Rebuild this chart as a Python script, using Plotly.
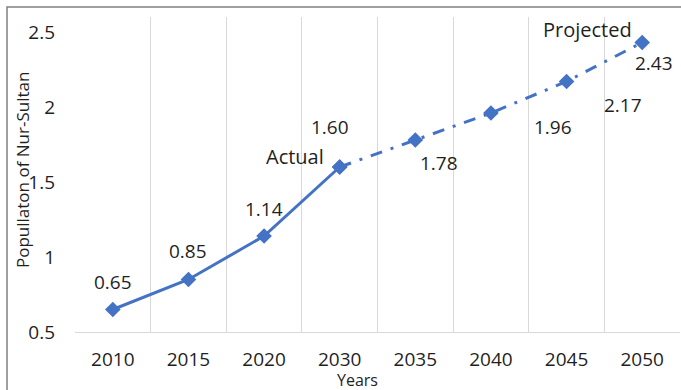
import plotly.graph_objects as go

years = ["2010", "2015", "2020", "2030", "2035", "2040", "2045", "2050"]
population = [0.65, 0.85, 1.14, 1.60, 1.78, 1.96, 2.17, 2.43]
actual_years = years[:4]
actual_values = population[:4]
projected_years = years[3:]
projected_values = population[3:]
y_ticks = [0.5, 1, 1.5, 2, 2.5]
y_ticktext = ["0.5", "1", "1.5", "2", "2.5"]

# label offsets (px) relative to each point
label_shift = [(0, 28), (0, 29), (0, 27), (-10, 40), (24, -23), (62, -14), (56, -23), (12, -20)]

BLUE = "#4472C4"
FONT = "Open Sans"
TXT = "#1f1f1f"

fig = go.Figure()
fig.add_trace(go.Scatter(
    x=actual_years, y=actual_values, mode="lines+markers",
    line=dict(color=BLUE, width=3),
    marker=dict(symbol="diamond", size=12, color=BLUE),
    showlegend=False, cliponaxis=False,
))
fig.add_trace(go.Scatter(
    x=projected_years, y=projected_values, mode="lines+markers",
    line=dict(color=BLUE, width=3, dash="12px,9px,3px,9px"),
    marker=dict(symbol="diamond", size=12, color=BLUE),
    showlegend=False, cliponaxis=False,
))

for i, (v, (dx, dy)) in enumerate(zip(population, label_shift)):
    fig.add_annotation(x=i, y=v, text=f"{v:.2f}", showarrow=False,
                       xshift=dx, yshift=dy,
                       font=dict(family=FONT, size=19, color=TXT))

fig.add_annotation(x=3, y=population[3], text="Actual", showarrow=False,
                   xshift=-45, yshift=11, font=dict(family=FONT, size=20, color=TXT))
fig.add_annotation(x=7, y=population[7], text="Projected", showarrow=False,
                   xshift=-55, yshift=13, font=dict(family=FONT, size=20, color=TXT))

# axis titles
fig.add_annotation(xref="paper", yref="paper", x=(22 - 75) / 605, y=1 - (170 - 17) / 315,
                   xanchor="center", yanchor="middle",
                   text="Popullaton of Nur-Sultan", textangle=-90, showarrow=False,
                   font=dict(family=FONT, size=17, color=TXT))
fig.add_annotation(xref="paper", yref="paper", x=(357 - 75) / 605, y=1 - (380 - 17) / 315,
                   xanchor="center", yanchor="middle",
                   text="Years", showarrow=False,
                   font=dict(family=FONT, size=16, color=TXT))

# outer chart border
fig.add_shape(type="rect", xref="paper", yref="paper",
              x0=(7 - 75) / 605, x1=1.05, y0=-0.3, y1=1 + (17 - 7) / 315,
              line=dict(color="#808080", width=1.5), layer="below")

fig.update_layout(
    width=681, height=390,
    margin=dict(l=75, r=1, t=17, b=58),
    paper_bgcolor="white", plot_bgcolor="white",
    font=dict(family=FONT, color=TXT),
    xaxis=dict(
        type="category", tickson="boundaries", range=[-0.5, 7.5],
        showgrid=True, gridcolor="#d9d9d9", gridwidth=1,
        showline=True, linecolor="#d9d9d9", linewidth=1,
        ticks="", tickfont=dict(family=FONT, size=19, color=TXT),
        ticklabelstandoff=10, zeroline=False,
        automargin=False,
    ),
    yaxis=dict(
        range=[0.5, 2.6], tickvals=y_ticks, ticktext=y_ticktext,
        showgrid=False, zeroline=False, showline=False, ticks="",
        tickfont=dict(family=FONT, size=19, color=TXT),
        ticklabelstandoff=19,
        automargin=False,
    ),
)

fig.write_html("out.html")
